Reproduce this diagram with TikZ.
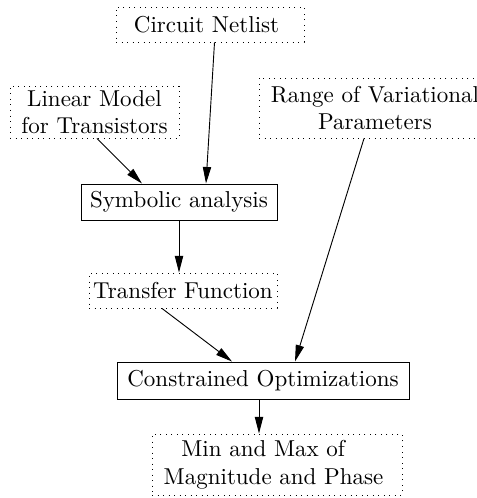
\documentclass[tikz,border=0pt]{standalone}
\usetikzlibrary{arrows.meta}
\newcommand{\pxu}{0.4348pt}
\begin{document}
\begin{tikzpicture}[x=0.4348pt,y=-0.4348pt,
  box/.style={draw, line width=0.4pt, inner sep=0pt, align=center},
  dotbox/.style={box, dotted},
  arr/.style={-{Triangle[length=7.2pt,width=3.6pt]}, line width=0.4pt}]
\useasboundingbox (0,0) rectangle (477,498);
\node[dotbox, minimum width=188*\pxu, minimum height=35*\pxu] (net) at (210,24.5) {Circuit Netlist\hspace*{3pt}};
\node[dotbox, minimum width=169*\pxu, minimum height=52*\pxu] (lin) at (94.5,112) {Linear Model\\for Transistors};
\node[dotbox, minimum width=232*\pxu, minimum height=60*\pxu] (rng) at (375,108) {Range of Variational\\Parameters};
\node[box, minimum width=196*\pxu, minimum height=36*\pxu] (sym) at (179,202) {Symbolic analysis};
\node[dotbox, minimum width=188*\pxu, minimum height=35*\pxu] (tf) at (183,290.5) {Transfer Function};
\node[box, minimum width=292*\pxu, minimum height=37*\pxu] (con) at (263,380.5) {Constrained Optimizations};
\node[dotbox, minimum width=250*\pxu, minimum height=61*\pxu] (mm) at (277,464.5) {Min and Max of\hspace*{12pt}\\Magnitude and Phase\hspace*{3pt}};
\draw[arr] ([xshift=4.5*\pxu]net.south) -- ([xshift=27*\pxu]sym.north);
\draw[arr] ([xshift=2.5*\pxu]lin.south) -- ([xshift=-37*\pxu]sym.north);
\draw[arr] (sym.south) -- ([xshift=-4*\pxu]tf.north);
\draw[arr] ([xshift=-21*\pxu]tf.south) -- ([xshift=-31*\pxu]con.north);
\draw[arr] ([xshift=-11*\pxu]rng.south) -- ([xshift=32*\pxu]con.north);
\draw[arr] ([xshift=-4*\pxu]con.south) -- ([xshift=-18*\pxu]mm.north);
\end{tikzpicture}
\end{document}
